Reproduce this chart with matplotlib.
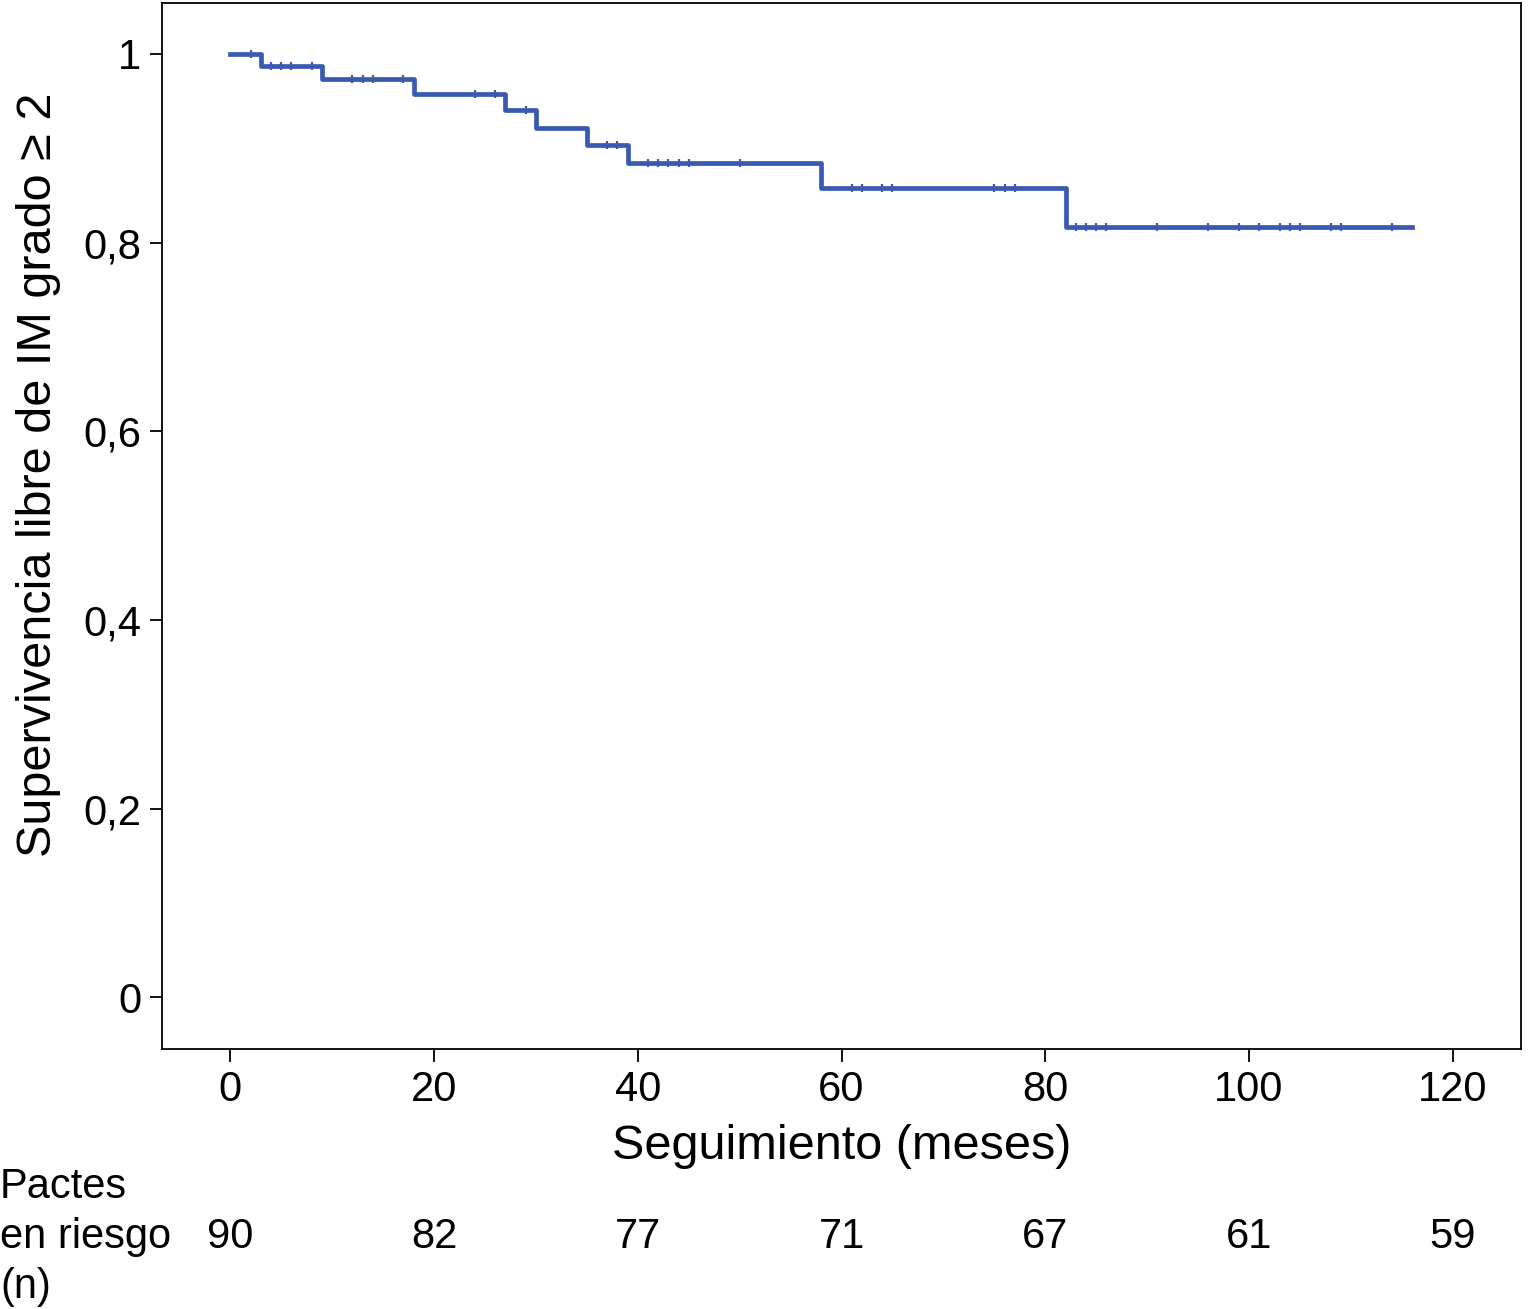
import numpy as np
import matplotlib.pyplot as plt

plt.rcParams['font.family'] = ['Liberation Sans', 'DejaVu Sans']

# tiempos de evento (meses) y supervivencia tras cada evento
t_evento = [0, 3, 9, 18, 27, 30, 35, 39, 58, 82]
s_evento = [1.0, 0.987, 0.973, 0.958, 0.941, 0.922, 0.903, 0.884, 0.858, 0.817]
t_final = 116

# censuras
t_censura = [2, 4, 5, 6, 8, 12, 13, 14, 17, 24, 26, 29, 37, 38,
             41, 42, 43, 44, 45, 50, 61, 62, 64, 65, 75, 76, 77,
             83, 84, 85, 86, 91, 96, 99, 101, 103, 104, 105, 108, 109, 114]

x_ticks = [0, 20, 40, 60, 80, 100, 120]
y_ticks = [0, 0.2, 0.4, 0.6, 0.8, 1.0]
y_labels = ['0', '0,2', '0,4', '0,6', '0,8', '1']
en_riesgo = [90, 82, 77, 71, 67, 61, 59]

color = '#3A59B0'

fig = plt.figure(figsize=(15.31, 13.09), dpi=100)
ax = fig.add_axes([0.1058, 0.1986, 0.8877, 0.7991])

xs = t_evento + [t_final]
ys = s_evento + [s_evento[-1]]
ax.step(xs, ys, where='post', color=color, lw=3.4)

t_c = np.array(t_censura)
idx = np.searchsorted(t_evento, t_c, side='right') - 1
s_c = np.array(s_evento)[idx]
ax.plot(t_c, s_c, '|', color=color, ms=6, mew=1.6)

ax.set_xlim(-6.7, 126.7)
ax.set_ylim(-0.055, 1.054)
ax.set_xticks(x_ticks)
ax.set_yticks(y_ticks)
ax.set_yticklabels(y_labels)
ax.tick_params(axis='both', labelsize=30, length=9, width=1.3, direction='out', pad=6)
for s in ax.spines.values():
    s.set_linewidth(1.3)

ax.set_xlabel('Seguimiento (meses)', fontsize=35, labelpad=10)
ax.set_ylabel('Supervivencia libre de IM grado \u2265 2', fontsize=35, va='center')
ax.yaxis.set_label_coords(-0.091, 0.549)

# tabla de pacientes en riesgo
trans = ax.get_xaxis_transform()
for x, n in zip(x_ticks, en_riesgo):
    ax.text(x, -0.18, str(n), transform=trans, ha='center', va='center', fontsize=30)
fig.text(0.0, 0.0932, 'Pactes', ha='left', va='center', fontsize=30)
fig.text(0.0, 0.055, 'en riesgo', ha='left', va='center', fontsize=30)
fig.text(0.0, 0.0168, '(n)', ha='left', va='center', fontsize=30)

fig.savefig('out.png', dpi=100)
